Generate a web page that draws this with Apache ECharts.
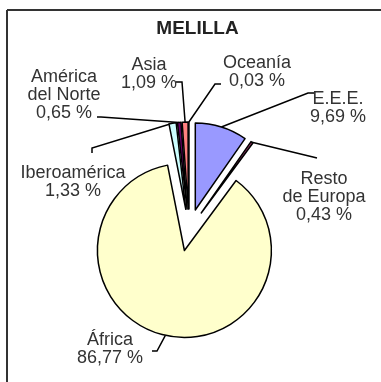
<!DOCTYPE html>
<html>
<head>
<meta charset="utf-8">
<script src="https://cdn.jsdelivr.net/npm/echarts@6/dist/echarts.min.js"></script>
<style>
  html, body { margin: 0; padding: 0; background: #ffffff; }
  #chart { width: 381px; height: 382px; }
</style>
</head>
<body>
<div id="chart"></div>
<script>
// Share of foreign residents in Melilla by area of origin (%)
const categories = ['E.E.E.', 'Resto\nde Europa', 'África', 'Iberoamérica', 'América\ndel Norte', 'Asia', 'Oceanía'];
const shares = [9.69, 0.43, 86.77, 1.33, 0.65, 1.09, 0.03];
const sliceColors = ['#9999ff', '#993366', '#ffffcc', '#ccffff', '#660066', '#ff8080', '#0066cc'];

// Label block centres and the bend points of each leader line
const labelAnchors = [[338, 108], [324, 197], [110, 349], [73, 182], [64, 95], [149, 74], [257, 72]];
const leaderBends = [
  [[308, 93], [315, 93]],
  [[313, 157], [317, 158]],
  [[157, 351], [152, 351]],
  [[92, 148], [92, 153]],
  [[101, 117], [97, 117]],
  [[182, 82], [176, 82]],
  [[215, 84], [221, 84]]
];

const EXPLODE = 21;
const TEXT_FONT = '18px "Liberation Sans", Arial, sans-serif';
const fmt = v => v.toFixed(2).replace('.', ',') + ' %';

const frameAndTitle = [
  { id: 'frameTop', type: 'line', shape: { x1: 7, y1: 10, x2: 381, y2: 10 }, style: { stroke: '#333333', lineWidth: 2 } },
  { id: 'frameLeft', type: 'line', shape: { x1: 7, y1: 10, x2: 7, y2: 382 }, style: { stroke: '#333333', lineWidth: 2 } },
  {
    id: 'title', type: 'text', x: 197.5, y: 29,
    style: {
      text: 'MELILLA', fill: '#222222', align: 'center', verticalAlign: 'middle',
      font: 'bold 19px "Liberation Sans", Arial, sans-serif'
    }
  }
];

const chart = echarts.init(document.getElementById('chart'), null, { renderer: 'canvas' });

chart.setOption({
  animation: false,
  backgroundColor: '#ffffff',
  graphic: frameAndTitle,
  series: [{
    type: 'pie',
    center: [189, 230],
    radius: 87,
    startAngle: 90,
    clockwise: true,
    selectedMode: 'multiple',
    selectedOffset: EXPLODE,
    avoidLabelOverlap: false,
    emphasis: { disabled: true },
    itemStyle: { borderColor: '#000000', borderWidth: 1.5 },
    label: { show: false },
    labelLine: { show: false },
    data: categories.map((name, i) => ({
      name: name,
      value: shares[i],
      selected: true,
      itemStyle: { color: sliceColors[i] }
    }))
  }]
});

// Leader lines start on the outer arc of each exploded slice, at its mid-angle
const sliceData = chart.getModel().getSeriesByIndex(0).getData();
const annotations = [];
categories.forEach((name, i) => {
  const L = sliceData.getItemLayout(i);
  const mid = (L.startAngle + L.endAngle) / 2;
  const reach = L.r + EXPLODE;
  const start = [L.cx + Math.cos(mid) * reach, L.cy + Math.sin(mid) * reach];
  annotations.push({
    id: 'leader' + i, type: 'polyline',
    shape: { points: [start, leaderBends[i][0], leaderBends[i][1]] },
    style: { stroke: '#000000', lineWidth: 1.5, fill: null }
  });
  annotations.push({
    id: 'label' + i, type: 'text', x: labelAnchors[i][0], y: labelAnchors[i][1],
    style: {
      text: name + '\n' + fmt(shares[i]), fill: '#333333',
      align: 'center', verticalAlign: 'middle', font: TEXT_FONT, lineHeight: 18
    }
  });
});
chart.setOption({ graphic: frameAndTitle.concat(annotations) });
</script>
</body>
</html>
